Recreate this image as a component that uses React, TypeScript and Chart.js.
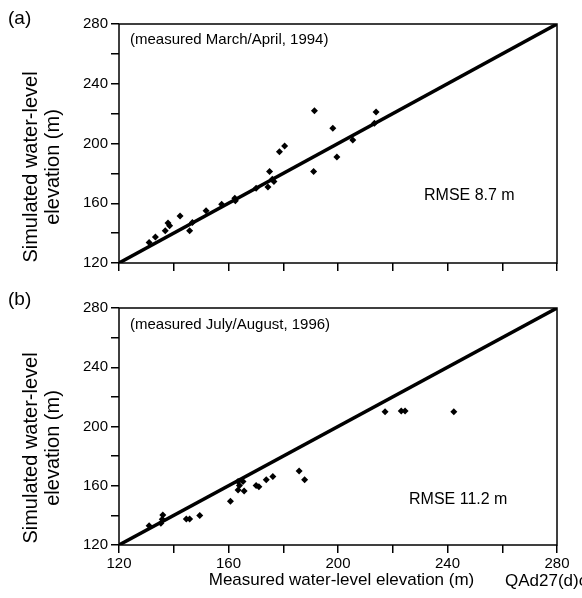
import React, { useEffect, useRef } from 'react';
import { Chart, registerables } from 'chart.js';

Chart.register(...registerables);

// Panel (a): measured March/April 1994
const measuredA = [131, 133.3, 136.9, 137.9, 138.5, 142.3, 145.8, 146.8, 151.8, 157.5, 162.3, 162.5, 170.1, 174.4, 175, 176.6, 176, 178.6, 180.5, 191.1, 191.4, 198.1, 199.6, 205.4, 213.3, 213.9];
const simulatedA = [133.8, 137.4, 141.6, 146.7, 144.9, 151.4, 141.6, 147.1, 155, 159.3, 163.4, 161.6, 170.1, 170.8, 181.2, 174.5, 176.1, 194.4, 198.4, 181.2, 222, 210.2, 190.9, 202.4, 213.6, 221.1];

// Panel (b): measured July/August 1996
const measuredB = [131, 135.3, 135.8, 136, 144.6, 145.8, 149.5, 160.7, 163.5, 165.3, 164, 163.5, 165.7, 170.1, 171.1, 173.8, 176.2, 185.8, 187.8, 217.2, 223.1, 224.5, 242.3];
const simulatedB = [133, 134.6, 137.4, 140.3, 137.5, 137.5, 140, 149.5, 162.9, 162.9, 160.1, 157.2, 156.5, 160.1, 159.4, 164, 166.2, 170, 164, 210, 210.5, 210.5, 210];

const axisTicks = [120, 140, 160, 180, 200, 220, 240, 260, 280];
const labeledTicks = [120, 160, 200, 240, 280];
const oneToOne = [120, 280];

const yTitleLines = ['Simulated water-level', 'elevation (m)'];
const xTitle = 'Measured water-level elevation (m)';
const panelLabels = ['(a)', '(b)'];
const periodNotes = ['(measured March/April, 1994)', '(measured July/August, 1996)'];
const rmseNotes = ['RMSE 8.7 m', 'RMSE 11.2 m'];
const figureId = 'QAd27(d)c';

const FONT = "Arial, 'Liberation Sans', Helvetica, sans-serif";

type TextItem = { text: string; x: number; y: number; size: number; align?: CanvasTextAlign; rotate?: boolean };

function decorPlugin(texts: TextItem[]) {
  return {
    id: 'decor',
    afterDraw(chart: any) {
      const ctx: CanvasRenderingContext2D = chart.ctx;
      const a = chart.chartArea;
      ctx.save();
      ctx.strokeStyle = '#000';
      ctx.lineWidth = 1.5;
      ctx.strokeRect(a.left, a.top, a.right - a.left, a.bottom - a.top);
      ctx.fillStyle = '#000';
      ctx.textBaseline = 'middle';
      for (const t of texts) {
        ctx.font = `${t.size}px ${FONT}`;
        ctx.textAlign = t.align || 'left';
        if (t.rotate) {
          ctx.save();
          ctx.translate(t.x, t.y);
          ctx.rotate(-Math.PI / 2);
          ctx.textAlign = 'center';
          ctx.fillText(t.text, 0, 0);
          ctx.restore();
        } else {
          ctx.fillText(t.text, t.x, t.y);
        }
      }
      ctx.restore();
    },
  };
}

function buildConfig(opts: {
  measured: number[];
  simulated: number[];
  showXLabels: boolean;
  plotTop: number;
  xAxisHeight: number;
  texts: TextItem[];
}): any {
  const tickSetter = (scale: any) => {
    scale.ticks = axisTicks.map((v) => ({ value: v }));
  };
  const gridOpts = {
    display: true,
    drawOnChartArea: false,
    drawTicks: true,
    tickLength: 8,
    color: '#000',
    lineWidth: 1.5,
  };
  return {
    type: 'scatter',
    data: {
      datasets: [
        {
          type: 'line',
          data: oneToOne.map((v) => ({ x: v, y: v })),
          borderColor: '#000',
          borderWidth: 3.5,
          pointRadius: 0,
          fill: false,
        },
        {
          type: 'scatter',
          data: opts.measured.map((m, i) => ({ x: m, y: opts.simulated[i] })),
          pointStyle: 'rectRot',
          pointRadius: 3.5,
          backgroundColor: '#000',
          borderColor: '#000',
          borderWidth: 0,
        },
      ],
    },
    options: {
      responsive: false,
      animation: false,
      devicePixelRatio: 1,
      events: [],
      layout: { autoPadding: false, padding: { top: opts.plotTop, left: 0, right: 25, bottom: 0 } },
      plugins: { legend: { display: false }, tooltip: { enabled: false } },
      scales: {
        x: {
          type: 'linear',
          min: 120,
          max: 280,
          afterBuildTicks: tickSetter,
          afterFit: (s: any) => {
            s.height = opts.xAxisHeight;
          },
          grid: gridOpts,
          border: { display: false },
          ticks: {
            color: '#000',
            font: { family: FONT, size: 15 },
            padding: 2,
            maxRotation: 0,
            autoSkip: false,
            callback: (v: number) => (opts.showXLabels && labeledTicks.includes(v) ? String(v) : ''),
          },
        },
        y: {
          type: 'linear',
          min: 120,
          max: 280,
          afterBuildTicks: tickSetter,
          afterFit: (s: any) => {
            s.width = 119;
          },
          grid: gridOpts,
          border: { display: false },
          ticks: {
            color: '#000',
            font: { family: FONT, size: 15 },
            padding: 3,
            autoSkip: false,
            callback: (v: number) => (labeledTicks.includes(v) ? String(v) : ''),
          },
        },
      },
    },
    plugins: [decorPlugin(opts.texts)],
  };
}

export default function App() {
  const refA = useRef<HTMLCanvasElement>(null);
  const refB = useRef<HTMLCanvasElement>(null);

  useEffect(() => {
    const topA = 24;
    const bottomA = 263;
    const titleMidA = 167;
    const chartA = new Chart(
      refA.current!,
      buildConfig({
        measured: measuredA,
        simulated: simulatedA,
        showXLabels: false,
        plotTop: topA,
        xAxisHeight: 285 - bottomA,
        texts: [
          { text: panelLabels[0], x: 8, y: 19, size: 19 },
          { text: periodNotes[0], x: 130, y: 40, size: 15 },
          { text: rmseNotes[0], x: 424, y: 196, size: 16 },
          { text: yTitleLines[0], x: 31, y: titleMidA, size: 20, rotate: true },
          { text: yTitleLines[1], x: 53, y: titleMidA, size: 20, rotate: true },
        ],
      })
    );
    const topB = 308 - 285;
    const bottomB = 545 - 285;
    const titleMidB = 448 - 285;
    const chartB = new Chart(
      refB.current!,
      buildConfig({
        measured: measuredB,
        simulated: simulatedB,
        showXLabels: true,
        plotTop: topB,
        xAxisHeight: 313 - bottomB,
        texts: [
          { text: panelLabels[1], x: 8, y: 15, size: 19 },
          { text: periodNotes[1], x: 130, y: 40, size: 15 },
          { text: rmseNotes[1], x: 409, y: 215, size: 16 },
          { text: yTitleLines[0], x: 31, y: titleMidB, size: 20, rotate: true },
          { text: yTitleLines[1], x: 53, y: titleMidB, size: 20, rotate: true },
          { text: xTitle, x: 341.5, y: 295, size: 17, align: 'center' },
          { text: figureId, x: 505, y: 296, size: 17 },
        ],
      })
    );
    return () => {
      chartA.destroy();
      chartB.destroy();
    };
  }, []);

  return (
    <div style={{ position: 'absolute', left: 0, top: 0, width: 582, height: 598, background: '#fff' }}>
      <canvas ref={refA} width={582} height={285} style={{ position: 'absolute', left: 0, top: 0, width: 582, height: 285 }} />
      <canvas ref={refB} width={582} height={313} style={{ position: 'absolute', left: 0, top: 285, width: 582, height: 313 }} />
    </div>
  );
}
